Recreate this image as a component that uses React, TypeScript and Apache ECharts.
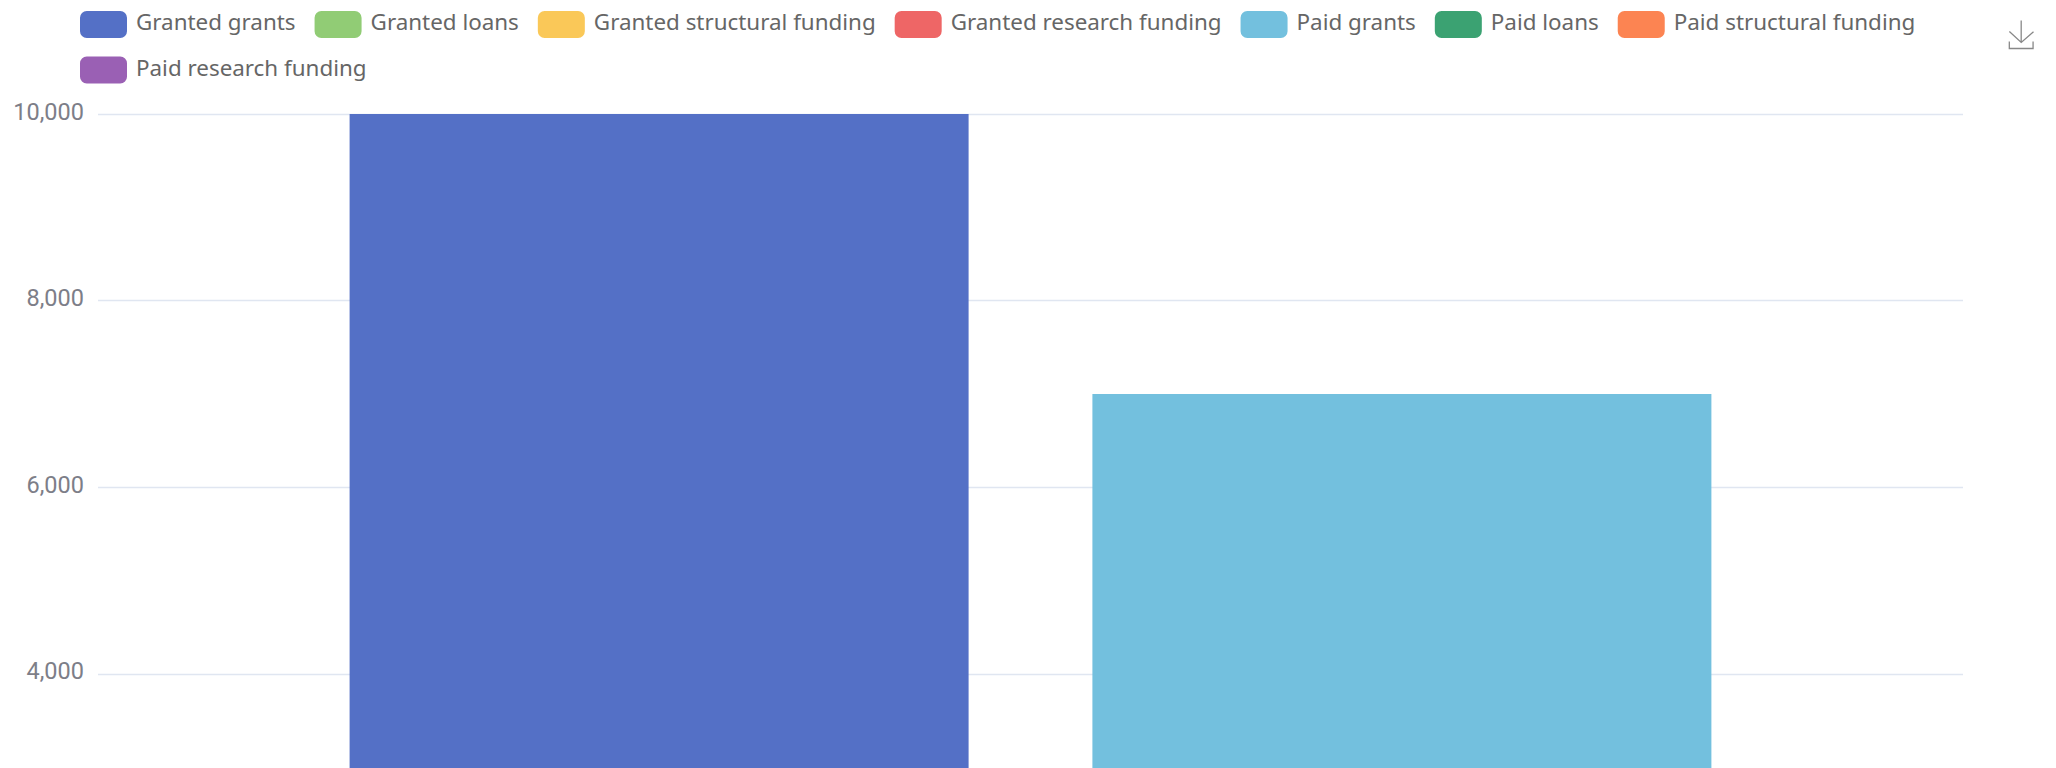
import React, { useEffect, useRef } from "react";
import * as echarts from "echarts";

const categories = [""];
const seriesNames = [
  "Granted grants",
  "Granted loans",
  "Granted structural funding",
  "Granted research funding",
  "Paid grants",
  "Paid loans",
  "Paid structural funding",
  "Paid research funding",
];
const stacks = ["Granted", "Granted", "Granted", "Granted", "Paid", "Paid", "Paid", "Paid"];
const seriesValues = [[10000], [0], [0], [0], [7000], [0], [0], [0]];
const colors = ["#5470c6", "#91cc75", "#fac858", "#ee6666", "#73c0de", "#3ba272", "#fc8452", "#9a60b4"];
const yMax = 10000;
const yInterval = 2000;
const visibleTickMin = 4000;

export default function App() {
  const ref = useRef<HTMLDivElement>(null);
  useEffect(() => {
    const chart = echarts.init(ref.current!, undefined, { renderer: "svg" });
    chart.setOption({
      animation: false,
      color: colors,
      textStyle: { fontFamily: "Noto Sans" },
      legend: {
        left: 80,
        top: 10.5,
        width: 1900,
        itemWidth: 47,
        itemHeight: 27,
        itemGap: 18,
        formatter: "{a|{name}}",
        textStyle: {
          rich: {
            a: {
              fontSize: 22.4,
              color: "#666",
              fontFamily: "Noto Sans",
              height: 20,
              lineHeight: 20,
              padding: [0, 1, 6, 4],
            },
          },
        },
        padding: 0,
      },
      toolbox: {
        right: 20,
        top: 18,
        itemSize: 28,
        padding: 0,
        feature: { saveAsImage: { title: "" } },
        iconStyle: { borderColor: "#888", borderWidth: 1.3 },
      },
      grid: { left: 98, right: 93, top: 114, height: 933 },
      xAxis: {
        type: "category",
        data: categories,
        axisLine: { lineStyle: { color: "#6E7079" } },
        axisTick: { show: false },
      },
      yAxis: {
        type: "value",
        min: 0,
        max: yMax,
        interval: yInterval,
        axisLabel: {
          fontSize: 23.5,
          color: "#7d7e88",
          margin: 14,
          fontFamily: "Roboto",
          verticalAlign: "bottom",
          lineHeight: 5,
          formatter: (v: number) => (v >= visibleTickMin ? v.toLocaleString("en-US") : ""),
        },
        splitLine: { lineStyle: { color: "#E0E6F1", width: 1.3 } },
      },
      series: seriesNames.map((name, i) => ({
        name,
        type: "bar",
        stack: stacks[i],
        data: seriesValues[i],
        barWidth: 619,
        barGap: "20%",
        itemStyle: { color: colors[i] },
      })),
    });
    return () => chart.dispose();
  }, []);
  return (
    <div style={{ position: "fixed", inset: 0, width: 2056, height: 768, overflow: "hidden", background: "#fff" }}>
      <div ref={ref} style={{ width: 2056, height: 1100 }} />
    </div>
  );
}
